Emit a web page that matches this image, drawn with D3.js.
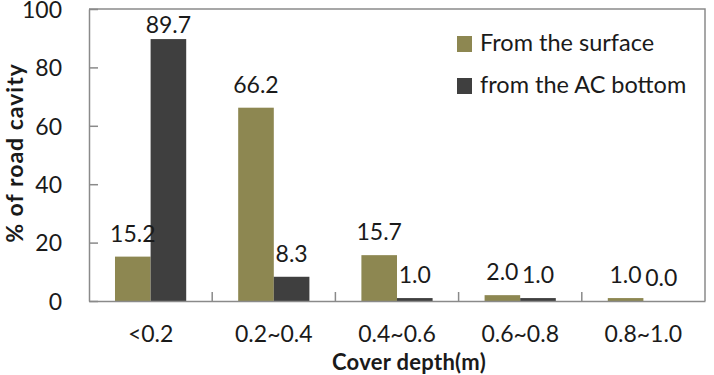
<!DOCTYPE html>
<html>
<head>
<meta charset="utf-8">
<script src="https://cdn.jsdelivr.net/npm/d3@7"></script>
<style>
  html, body { margin: 0; padding: 0; background: #fff; }
  svg { display: block; }
  text { font-family: Lato, "Open Sans", sans-serif; fill: #1a1a1a; }
</style>
</head>
<body>
<svg id="chart" width="714" height="375"></svg>
<script>
const categories = ["<0.2", "0.2~0.4", "0.4~0.6", "0.6~0.8", "0.8~1.0"];
const seriesNames = ["From the surface", "from the AC bottom"];
const surfaceValues = [15.2, 66.2, 15.7, 2.0, 1.0];
const bottomValues = [89.7, 8.3, 1.0, 1.0, 0.0];
const yTicks = [0, 20, 40, 60, 80, 100];
const colors = ["#8d8751", "#3f3f3f"];

const series = [surfaceValues, bottomValues];
const W = 714, H = 375;
const m = { left: 89, right: 9, top: 9, bottom: 74 };
const svg = d3.select("#chart");

const x0 = d3.scaleBand().domain(categories).range([m.left, W - m.right]).padding(0);
const x1 = d3.scaleBand().domain(d3.range(series.length)).range([0, x0.bandwidth()])
  .paddingInner(0).paddingOuter(0.73);
const y = d3.scaleLinear().domain([0, 100]).range([H - m.bottom, m.top]);

// frame (top & right)
svg.append("path")
  .attr("d", `M${m.left},${m.top}H${W - m.right}V${H - m.bottom}`)
  .attr("fill", "none").attr("stroke", "#8a8a8a").attr("stroke-width", 1.5);

// bars
categories.forEach((c, i) => {
  series.forEach((vals, s) => {
    svg.append("rect")
      .attr("x", x0(c) + x1(s))
      .attr("y", y(vals[i]))
      .attr("width", x1.bandwidth())
      .attr("height", y(0) - y(vals[i]))
      .attr("fill", colors[s]);
  });
});

// data labels
categories.forEach((c, i) => {
  series.forEach((vals, s) => {
    svg.append("text")
      .attr("x", x0(c) + x1(s) + x1.bandwidth() / 2)
      .attr("y", Math.max(y(vals[i]) - 15, m.top + 24))
      .attr("text-anchor", "middle")
      .style("font-size", "23px")
      .text(vals[i].toFixed(1));
  });
});

// y axis
const yAxis = svg.append("g").attr("transform", `translate(${m.left},0)`)
  .call(d3.axisLeft(y).tickValues(yTicks).tickSizeInner(-9).tickSizeOuter(0).tickPadding(27));
yAxis.select(".domain").attr("stroke", "#8a8a8a").attr("stroke-width", 1.5);
yAxis.selectAll(".tick line").attr("stroke", "#8a8a8a").attr("stroke-width", 1.5);
yAxis.selectAll(".tick text")
  .attr("x", -27).attr("dy", "0.36em").attr("text-anchor", "end")
  .style("font-size", "23px")
  .attr("fill", "#1a1a1a").style("font-family", "Lato, sans-serif");

// x axis
const xAxis = svg.append("g").attr("transform", `translate(0,${H - m.bottom})`)
  .call(d3.axisBottom(x0).tickSize(0).tickPadding(25));
xAxis.select(".domain").attr("stroke", "#8a8a8a").attr("stroke-width", 1.5);
xAxis.selectAll(".tick text").style("font-size", "23px")
  .attr("fill", "#1a1a1a").style("font-family", "Lato, sans-serif");
// boundary ticks between categories
xAxis.selectAll(".sep").data(categories.slice(1)).enter().append("line")
  .attr("x1", d => x0(d)).attr("x2", d => x0(d))
  .attr("y1", 0).attr("y2", -9)
  .attr("stroke", "#8a8a8a").attr("stroke-width", 1.5);

// axis titles
svg.append("text")
  .attr("x", 409).attr("y", 370)
  .attr("text-anchor", "middle")
  .style("font-size", "22px").style("font-weight", "bold").style("letter-spacing", "0.3px")
  .text("Cover depth(m)");
svg.append("text")
  .attr("transform", `translate(23,${(m.top + H - m.bottom) / 2 - 2}) rotate(-90)`)
  .attr("text-anchor", "middle")
  .style("font-size", "23px").style("font-weight", "bold").style("letter-spacing", "1px")
  .text("% of road cavity");

// legend
const leg = svg.append("g");
seriesNames.forEach((n, i) => {
  const ly = 36 + i * 42;
  leg.append("rect").attr("x", 457).attr("y", ly).attr("width", 15).attr("height", 16)
    .attr("fill", colors[i]);
  leg.append("text").attr("x", 480).attr("y", ly + 15)
    .style("font-size", "23.5px")
    .text(n);
});
</script>
</body>
</html>
